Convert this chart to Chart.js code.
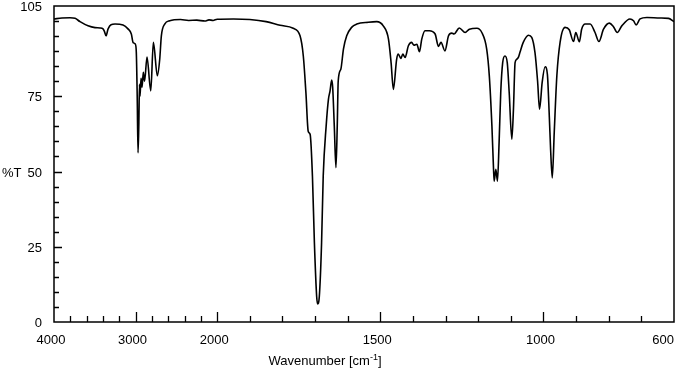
<!DOCTYPE html>
<html>
<head>
<meta charset="utf-8">
<script src="https://cdn.jsdelivr.net/npm/chart.js@4.4.0/dist/chart.umd.min.js"></script>
<style>
html,body{margin:0;padding:0;background:#fff;}
#wrap{width:683px;height:375px;}
</style>
</head>
<body>
<div id="wrap"><canvas id="c" width="683" height="375"></canvas></div>
<script>
// ---- data (wavenumber in cm-1, transmittance in %T) ----
const wavenumbers = [
  4000,3902,3804,3742,3681,3583,3497,3436,3399,3381,3362,3338,3301,3252,3154,3093,3052,3031,3003,2991,
  2980,2970,2960,2952,2946,2933,2921,2905,2890,2860,2814,2782,2733,2704,2684,2643,2581,2450,2350,2250,
  2150,2100,2050,2000,1950,1900,1850,1807,1767,1746,1736,1728,1721,1715,1708,1702,1695,1692,1687,1680,
  1675,1666,1659,1654,1649,1646,1641,1636,1632,1629,1621,1613,1603,1588,1572,1537,1511,1491,1475,1467,
  1460,1450,1445,1437,1431,1424,1414,1404,1397,1388,1380,1373,1363,1350,1332,1322,1314,1302,1291,1281,
  1274,1258,1240,1227,1204,1189,1174,1166,1158,1153,1151,1146,1141,1136,1131,1125,1118,1111,1105,1097,
  1092,1087,1082,1077,1072,1062,1046,1036,1026,1018,1012,1004,995,988,982,978,973,967,959,949,
  934,921,908,901,890,883,872,857,842,830,816,798,786,774,760,735,724,716,704,683,
  643,617,600
];
const transmittance = [
  100.7,101.0,101.1,100.9,99.8,98.4,97.8,97.7,97.4,96.5,95.1,97.3,98.8,99.0,98.7,97.4,95.7,92.9,92.3,89.6,
  75.0,56.2,66.0,79.0,75.0,81.0,78.0,83.0,80.0,88.0,76.8,92.9,81.8,87.3,95.1,99.0,100.1,100.5,100.2,100.3,
  100.0,100.4,100.2,100.6,100.7,100.5,99.8,98.6,97.6,95.1,88.4,76.2,63.4,62.3,48.4,26.3,8.4,6.0,8.4,26.3,
  48.4,65.1,74.0,76.8,80.4,78.0,65.0,51.3,65.0,80.1,84.0,90.7,95.1,97.9,99.0,99.6,99.8,98.4,94.0,86.2,
  77.3,87.3,89.0,87.6,89.0,87.9,91.8,92.9,92.0,92.3,89.8,94.0,96.8,96.8,95.7,91.6,92.9,90.1,95.1,96.0,
  95.7,97.7,96.2,97.3,97.6,96.2,90.7,81.8,65.1,50.7,46.8,50.7,46.8,59.6,76.2,86.2,88.4,86.2,76.2,60.7,
  70.7,86.2,87.3,87.9,89.6,92.9,95.3,94.6,89.5,80.0,70.7,79.6,84.8,82.3,68.0,57.0,47.9,63.0,81.8,93.0,
  97.9,97.1,93.2,96.2,93.1,97.3,99.0,99.0,96.2,93.2,97.3,99.3,98.2,96.2,98.4,100.7,100.1,98.7,100.7,101.2,
  101.0,100.9,99.8
];
const xTickLabels = [4000, 3000, 2000, 1500, 1000, 600];
const xMajorTicks = [3000, 2000, 1500, 1000];
const yTickLabels = [0, 25, 50, 75, 105];
const yMajorTicks = [25, 50, 75];
const yAxisTitle = '%T';
const xAxisTitle = 'Wavenumber [cm';

// ---- IR axis: 4000-2000 compressed 4x relative to 2000-600 ----
class IRScale extends Chart.LinearScale {
  getPixelForValue(v) {
    const u = v >= 2000 ? (4000 - v) / 4 : 500 + (2000 - v);
    return this.getPixelForDecimal(u / 1900);
  }
  getValueForPixel(p) {
    const u = this.getDecimalForPixel(p) * 1900;
    return u <= 500 ? 4000 - 4 * u : 2000 - (u - 500);
  }
}
IRScale.id = 'irscale';
IRScale.defaults = Chart.LinearScale.defaults;
Chart.register(IRScale);

const FONT = '13px "Liberation Sans", Arial, sans-serif';

const axisPlugin = {
  id: 'irAxes',
  afterDraw(chart) {
    const ctx = chart.ctx;
    const xs = chart.scales.x, ys = chart.scales.y;
    const a = chart.chartArea;
    ctx.save();
    ctx.strokeStyle = '#000';
    ctx.fillStyle = '#000';
    ctx.lineWidth = 1.5;
    ctx.strokeRect(a.left, a.top, a.right - a.left, a.bottom - a.top);
    // x ticks (inward)
    ctx.lineWidth = 1.3;
    ctx.beginPath();
    const xt = [];
    for (let w = 3800; w > 2000; w -= 200) xt.push(w);
    for (let w = 2000; w > 600; w -= 100) xt.push(w);
    xt.forEach(w => {
      const px = Math.round(xs.getPixelForValue(w)) + 0.5;
      const len = xMajorTicks.includes(w) ? 10 : 6;
      ctx.moveTo(px, a.bottom);
      ctx.lineTo(px, a.bottom - len);
    });
    // y ticks (inward)
    for (let t = 5; t < 105; t += 5) {
      const py = Math.round(ys.getPixelForValue(t)) + 0.5;
      const len = yMajorTicks.includes(t) ? 8 : 5;
      ctx.moveTo(a.left, py);
      ctx.lineTo(a.left + len, py);
    }
    ctx.stroke();
    // labels
    ctx.font = FONT;
    ctx.textBaseline = 'alphabetic';
    xTickLabels.forEach(w => {
      const px = xs.getPixelForValue(w);
      if (w === 600) { ctx.textAlign = 'right'; ctx.fillText(String(w), px, 344); }
      else { ctx.textAlign = 'center'; ctx.fillText(String(w), px - 3, 344); }
    });
    ctx.textAlign = 'right';
    yTickLabels.forEach(t => {
      const py = ys.getPixelForValue(t);
      ctx.fillText(String(t), 42, py + 5);
    });
    ctx.textAlign = 'left';
    ctx.fillText(yAxisTitle, 2, ys.getPixelForValue(50) + 5);
    // x axis title with superscript
    const mainW = ctx.measureText(xAxisTitle).width;
    ctx.font = '9px "Liberation Sans", Arial, sans-serif';
    const supW = ctx.measureText('-1').width;
    ctx.font = FONT;
    const brW = ctx.measureText(']').width;
    const total = mainW + supW + brW;
    let x0 = 325 - total / 2;
    const by = 365;
    ctx.fillText(xAxisTitle, x0, by);
    ctx.font = '9px "Liberation Sans", Arial, sans-serif';
    ctx.fillText('-1', x0 + mainW, by - 5);
    ctx.font = FONT;
    ctx.fillText(']', x0 + mainW + supW, by);
    ctx.restore();
  }
};

const points = wavenumbers.map((w, i) => ({ x: w, y: transmittance[i] }));

new Chart(document.getElementById('c'), {
  type: 'line',
  data: {
    datasets: [{
      data: points,
      borderColor: '#000',
      borderWidth: 1.6,
      pointRadius: 0,
      fill: false,
      cubicInterpolationMode: 'monotone'
    }]
  },
  options: {
    responsive: false,
    animation: false,
    events: [],
    layout: { padding: { left: 54, right: 9, top: 6, bottom: 53 } },
    scales: {
      x: { type: 'irscale', min: 600, max: 4000, display: false },
      y: { type: 'linear', min: 0, max: 105, display: false }
    },
    plugins: { legend: { display: false }, tooltip: { enabled: false }, title: { display: false } }
  },
  plugins: [axisPlugin]
});
</script>
</body>
</html>
